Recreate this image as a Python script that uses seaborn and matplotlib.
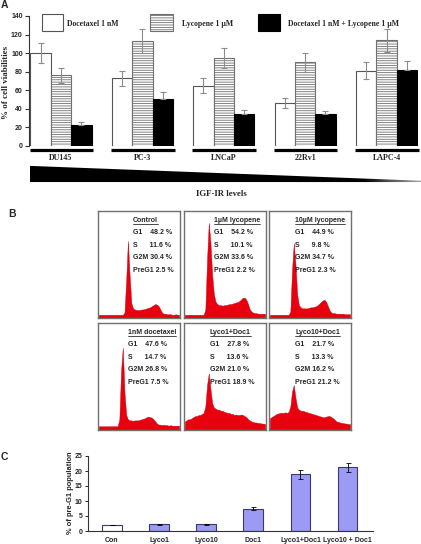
import numpy as np
import pandas as pd
import matplotlib
matplotlib.use("Agg")
import matplotlib.pyplot as plt
import seaborn as sns
from matplotlib.patches import Rectangle, Polygon
from matplotlib.lines import Line2D

# ---------------- data ----------------
cell_lines = ["DU145", "PC-3", "LNCaP", "22Rv1", "LAPC-4"]
treatments = ["Docetaxel 1 nM", "Lycopene 1 \u00b5M", "Docetaxel 1 nM + Lycopene 1 \u00b5M"]
doc_vals = [100, 73, 65, 46, 81]
doc_err = [11, 8, 8, 5.5, 9]
lyc_vals = [76, 113, 95, 90, 114]
lyc_err = [8.5, 12.5, 11, 10.5, 12.5]
combo_vals = [23, 51, 34.5, 34, 82]
combo_err = [2.5, 7, 4.5, 4, 9]
yticks_A = [0, 20, 40, 60, 80, 100, 120, 140]

hist_titles = ["Control", "1\u00b5M lycopene", "10\u00b5M lycopene",
               "1nM docetaxel", "Lyco1+Doc1", "Lyco10+Doc1"]
hist_stats = [
    ["G1    48.2 %", "S      11.6 %", "G2M 30.4 %", "PreG1 2.5 %"],
    ["G1    54.2 %", "S      10.1 %", "G2M 33.6 %", "PreG1 2.2 %"],
    ["G1    44.9 %", "S      9.8 %", "G2M 34.7 %", "PreG1 2.3 %"],
    ["G1    47.6 %", "S      14.7 %", "G2M 26.8 %", "PreG1 7.5 %"],
    ["G1    27.8 %", "S      13.6 %", "G2M 21.0 %", "PreG1 18.9 %"],
    ["G1    21.7 %", "S      13.3 %", "G2M 16.2 %", "PreG1 21.2 %"],
]
hist_control = [0.03]*15 + [0.05, 0.35, 0.72, 0.40, 0.14, 0.09, 0.08, 0.075, 0.075, 0.075,
                0.08, 0.08, 0.085, 0.09, 0.095, 0.10, 0.11, 0.12, 0.13, 0.125, 0.11, 0.08,
                0.05] + [0.04, 0.04, 0.035, 0.035, 0.035, 0.03, 0.03, 0.035, 0.03, 0.03]
hist_lyc1 = [0.03]*12 + [0.08, 0.55, 0.89, 0.70, 0.40, 0.22, 0.15, 0.13, 0.12, 0.12, 0.115,
             0.12, 0.12, 0.125, 0.13, 0.13, 0.135, 0.14, 0.145, 0.15, 0.16, 0.175, 0.19,
             0.19, 0.17, 0.13, 0.08, 0.06] + [0.05, 0.045, 0.045, 0.04, 0.04, 0.04, 0.04, 0.04]
hist_lyc10 = [0.03]*12 + [0.06, 0.45, 0.70, 0.50, 0.22, 0.12, 0.10, 0.09, 0.09, 0.09, 0.09,
              0.095, 0.10, 0.10, 0.105, 0.11, 0.12, 0.135, 0.15, 0.165, 0.17, 0.15, 0.11,
              0.07, 0.05] + [0.045, 0.045, 0.04, 0.04, 0.04, 0.04, 0.04, 0.035, 0.035, 0.035, 0.035]
hist_doc1 = [0.035]*12 + [0.10, 0.55, 0.77, 0.35, 0.14, 0.10, 0.09, 0.09, 0.085, 0.09, 0.09,
             0.09, 0.095, 0.10, 0.105, 0.11, 0.12, 0.125, 0.12, 0.115, 0.10, 0.08, 0.06] + \
            [0.05, 0.05, 0.045, 0.05, 0.045, 0.045, 0.04, 0.045, 0.04, 0.04, 0.04, 0.04, 0.04]
hist_lyc1doc1 = [0.08, 0.09, 0.10, 0.10, 0.11, 0.12, 0.13, 0.13, 0.14, 0.14, 0.15, 0.16, 0.22,
                 0.42, 0.53, 0.38, 0.25, 0.21, 0.20, 0.19, 0.19, 0.18, 0.18, 0.17, 0.165, 0.16,
                 0.16, 0.15, 0.15, 0.14, 0.145, 0.14, 0.14, 0.145, 0.14, 0.13, 0.12, 0.10, 0.09,
                 0.08, 0.075, 0.07, 0.07, 0.065, 0.065, 0.06, 0.06, 0.055]
hist_lyc10doc1 = [0.11, 0.12, 0.13, 0.14, 0.15, 0.155, 0.16, 0.16, 0.16, 0.165, 0.16, 0.17, 0.22,
                  0.36, 0.42, 0.30, 0.21, 0.19, 0.18, 0.18, 0.175, 0.17, 0.165, 0.16, 0.155, 0.15,
                  0.145, 0.14, 0.135, 0.13, 0.125, 0.12, 0.12, 0.125, 0.13, 0.13, 0.12, 0.11,
                  0.095, 0.08, 0.075, 0.07, 0.065, 0.065, 0.06, 0.06, 0.055, 0.055]
hist_data = [hist_control, hist_lyc1, hist_lyc10, hist_doc1, hist_lyc1doc1, hist_lyc10doc1]

groups_C = ["Con", "Lyco1", "Lyco10", "Doc1", "Lyco1+Doc1", "Lyco10 + Doc1"]
preg1_vals = [2.0, 2.2, 2.3, 7.5, 18.9, 21.2]
preg1_err = [0.15, 0.2, 0.2, 0.5, 1.5, 1.5]
yticks_C = [0, 5, 10, 15, 20, 25]

# ---------------- style ----------------
sns.set_style("white")
plt.rcParams["font.family"] = ["Liberation Sans", "DejaVu Sans"]
plt.rcParams["hatch.linewidth"] = 0.6
SERIF = ["Liberation Serif", "DejaVu Serif"]
SANS = ["Liberation Sans", "DejaVu Sans"]

W, H = 421, 544
fig = plt.figure(figsize=(W / 100, H / 100), dpi=100)


def px_axes(l, t, r, b):
    return fig.add_axes([l / W, 1 - b / H, (r - l) / W, (b - t) / H])


def ftext(x, y, s, **kw):
    return fig.text(x / W, 1 - y / H, s, **kw)


# ---------------- panel A ----------------
axA = px_axes(29, 16, 418, 146)
rows = []
for t, vals in zip(treatments, [doc_vals, lyc_vals, combo_vals]):
    for c, v in zip(cell_lines, vals):
        rows.append({"cell": c, "treatment": t, "value": v})
dfA = pd.DataFrame(rows)
sns.barplot(data=dfA, x="cell", y="value", hue="treatment", order=cell_lines,
            hue_order=treatments, palette=["white", "white", "black"], saturation=1,
            width=0.75, gap=0, errorbar=None, legend=False, ax=axA)
bar_conts = list(axA.containers)
errs = [doc_err, lyc_err, combo_err]
HATCH_EC = "#707070"
for i, cont in enumerate(bar_conts):
    xs, ys = [], []
    for bar in cont:
        if i == 0:
            bar.set_edgecolor("#555555")
        elif i == 1:
            bar.set_edgecolor(HATCH_EC)
            bar.set_hatch("-------")
        else:
            bar.set_edgecolor("black")
        bar.set_linewidth(0.8)
        xs.append(bar.get_x() + bar.get_width() / 2)
        ys.append(bar.get_height())
    e = np.array(errs[i])
    yerr = [np.zeros_like(e), e] if i == 2 else e
    axA.errorbar(xs, ys, yerr=yerr, fmt="none", ecolor="#8c8c8c",
                 elinewidth=0.8, capsize=2.5, capthick=0.8, zorder=5)
# group underlines
for j in range(len(cell_lines)):
    b0 = bar_conts[0][j]
    b2 = bar_conts[2][j]
    axA.plot([b0.get_x() - 0.01, b2.get_x() + b2.get_width() + 0.02], [-4.3, -4.3],
             color="black", lw=2.3, solid_capstyle="butt", clip_on=False)
axA.set_xlim(-0.393, 4.387)
axA.set_ylim(0, 140)
axA.set_yticks(yticks_A)
axA.set_xlabel("")
axA.set_ylabel("")
sns.despine(ax=axA, bottom=True)
axA.spines["left"].set_color("#333333")
axA.spines["left"].set_linewidth(0.8)
axA.tick_params(axis="y", direction="out", length=3, width=0.8, color="#333333",
                labelsize=5, pad=1.5, left=True)
axA.tick_params(axis="x", length=0, pad=6)
for lab in axA.get_yticklabels():
    lab.set_fontweight("bold")
    lab.set_family(SANS)
for lab in axA.get_xticklabels():
    lab.set_fontweight("bold")
    lab.set_family(SERIF)
    lab.set_fontsize(5.8)

ftext(6, 82, "% of cell viabilities", rotation=90, ha="center", va="center",
      family=SERIF, fontweight="bold", fontsize=6.5)

# legend (manual)
leg_boxes = [(42, 63, "white", "#555555", None), (150, 173, "white", HATCH_EC, "-------"),
             (258, 280, "black", "black", None)]
leg_text_x = [67, 182, 288]
for (l, r, fc, ec, hatch), tx, lab in zip(leg_boxes, leg_text_x, treatments):
    fig.add_artist(Rectangle((l / W, 1 - 31 / H), (r - l) / W, 17 / H, transform=fig.transFigure,
                             facecolor=fc, edgecolor=ec, hatch=hatch, lw=0.8))
    ftext(tx, 23.5, lab, ha="left", va="center", family=SERIF, fontweight="bold", fontsize=5.6)

# wedge
axW = px_axes(30, 164, 421, 183)
axW.set_axis_off()
grad = np.ones((2, 200))
grad[:, 170:] = np.linspace(1, 0.45, 30)
im = axW.imshow(grad, cmap="Greys", vmin=0, vmax=1, extent=[0, 1, 0, 1], aspect="auto")
poly = Polygon([[0, 0.05], [0, 0.9], [1, 0.12], [1, 0.05]], closed=True,
               transform=axW.transData, facecolor="none", edgecolor="none")
axW.add_patch(poly)
im.set_clip_path(poly)
axW.set_xlim(0, 1)
axW.set_ylim(0, 1)
ftext(221, 194, "IGF-IR levels", ha="center", va="center", family=SERIF,
      fontweight="bold", fontsize=6.3)

# ---------------- panel B ----------------
cols = [(98, 180), (184, 266), (269, 351)]
rows_px = [(211, 318), (323, 430)]
text_off = [35, 30, 26, 30, 26, 26]
title_objs = []
for k in range(6):
    r, c = divmod(k, 3)
    l, rr = cols[c]
    t, b = rows_px[r]
    ax = px_axes(l, t, rr, b)
    vals = hist_data[k]
    x = np.arange(len(vals))
    ax.fill_between(x, 0, vals, color="#e8000f", lw=0.3, edgecolor="#c80010")
    ax.set_xlim(-0.5, len(vals) - 0.5)
    ax.set_ylim(0, 1)
    ax.set_xticks(np.arange(0, len(vals), 4))
    ax.set_yticks([])
    ax.tick_params(axis="x", direction="in", length=1.5, width=0.5, color="#444444",
                   labelbottom=False, bottom=True)
    for s in ax.spines.values():
        s.set_color("#707070")
        s.set_linewidth(1.0)
    xf = text_off[k] / (rr - l)
    tt = ax.text(xf, 0.915, hist_titles[k], transform=ax.transAxes, ha="left", va="center",
                 fontsize=5, fontweight="bold", family=SANS)
    title_objs.append(tt)
    for j, s in enumerate(hist_stats[k]):
        ax.text(xf, 0.80 - j * 0.118, s, transform=ax.transAxes, ha="left", va="center",
                fontsize=5, fontweight="bold", family=SANS)

# ---------------- panel C ----------------
axC = px_axes(88, 456, 373, 531)
dfC = pd.DataFrame({"group": groups_C, "value": preg1_vals})
sns.barplot(data=dfC, x="group", y="value", hue="group", order=groups_C,
            palette=["white"] + ["#9b9bf5"] * 5, saturation=1, width=0.42,
            errorbar=None, legend=False, ax=axC)
xsC, ysC = [], []
for bar in axC.patches:
    bar.set_edgecolor("#3a3a6a")
    bar.set_linewidth(0.8)
for cont in list(axC.containers):
    for bar in cont:
        if bar is None:
            continue
        xsC.append(bar.get_x() + bar.get_width() / 2)
        ysC.append(bar.get_height())
order_idx = np.argsort(xsC)
axC.errorbar(np.array(xsC)[order_idx], np.array(ysC)[order_idx], yerr=preg1_err,
             fmt="none", ecolor="black", elinewidth=0.6, capsize=1.8, capthick=0.6, zorder=5)
axC.set_xlim(-0.51, 5.54)
axC.set_ylim(0, 25)
axC.set_yticks(yticks_C)
axC.set_xlabel("")
axC.set_ylabel("")
sns.despine(ax=axC)
for s in ["left", "bottom"]:
    axC.spines[s].set_color("#333333")
    axC.spines[s].set_linewidth(0.8)
axC.tick_params(axis="y", direction="out", length=2.5, width=0.7, labelsize=5, pad=1.5, left=True)
axC.tick_params(axis="x", length=0, labelsize=5, pad=4)
for lab in axC.get_yticklabels() + axC.get_xticklabels():
    lab.set_fontweight("bold")
ftext(70, 493, "% of pre-G1 population", rotation=90, ha="center", va="center",
      fontweight="bold", fontsize=5.4)

# panel letters
ftext(1, 4.5, "A", ha="left", va="center", fontweight="bold", fontsize=7.5)
ftext(8, 214, "B", ha="left", va="center", fontweight="bold", fontsize=7.5)
ftext(1, 457, "C", ha="left", va="center", fontweight="bold", fontsize=7.5)

# underline hist titles
fig.canvas.draw()
renderer = fig.canvas.get_renderer()
for tt in title_objs:
    bb = tt.get_window_extent(renderer)
    y = bb.y0 - 0.3
    fig.add_artist(Line2D([bb.x0 / W, bb.x1 / W], [y / H, y / H], transform=fig.transFigure,
                          color="black", lw=0.5))

fig.savefig("out.png", dpi=100)
